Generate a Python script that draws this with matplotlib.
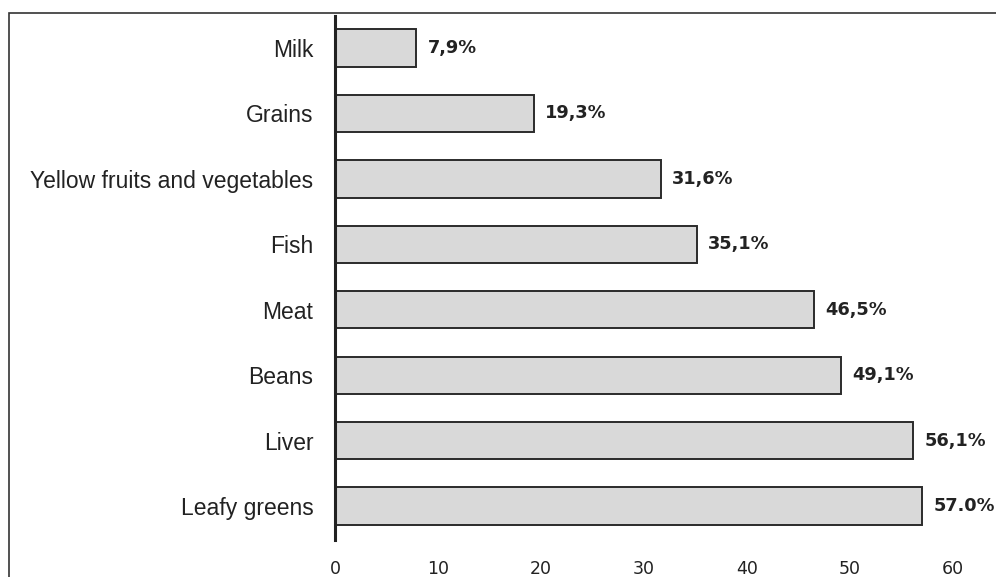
import matplotlib
matplotlib.use('Agg')
import matplotlib.pyplot as plt
from matplotlib.patches import Rectangle

# food groups and share of respondents (%)
categories = ['Leafy greens', 'Liver', 'Beans', 'Meat', 'Fish',
              'Yellow fruits and vegetables', 'Grains', 'Milk']
values = [57.0, 56.1, 49.1, 46.5, 35.1, 31.6, 19.3, 7.9]
value_labels = ['57.0%', '56,1%', '49,1%', '46,5%', '35,1%', '31,6%', '19,3%', '7,9%']
xticks = [0, 10, 20, 30, 40, 50, 60]

fig = plt.figure(figsize=(9.96, 5.77), dpi=100)

# outer frame (only top and left edges show)
fig.patches.append(Rectangle((9/996, -0.1), 1.2, 1 - 13/577 + 0.1, transform=fig.transFigure,
                             fill=False, edgecolor='#333333', lw=1.2))

ax = fig.add_axes([335/996, 37/577, 649/996, 524/577])
y = range(len(categories))
ax.barh(y, values, height=0.57, color='#d9d9d9', edgecolor='#2b2b2b', linewidth=1.4)

for yi, v, lab in zip(y, values, value_labels):
    ax.text(v + 1.1, yi, lab, va='center', ha='left', fontsize=12.8,
            fontweight='bold', color='#222222', family='DejaVu Sans', clip_on=False)

ax.set_xlim(0, 63)
ax.set_ylim(-0.52, 7.49)
ax.set_yticks(list(y))
ax.set_yticklabels(categories, fontsize=16.5, color='#222222', family='Liberation Sans')
ax.set_xticks(xticks)
ax.set_xticklabels([str(t) for t in xticks], fontsize=12.5, color='#222222', family='DejaVu Sans')
ax.tick_params(axis='y', length=0, pad=15.5)
ax.tick_params(axis='x', length=0, pad=14.5)

for s in ['top', 'right', 'bottom']:
    ax.spines[s].set_visible(False)
ax.spines['left'].set_linewidth(2.2)
ax.spines['left'].set_color('#222222')

fig.savefig('out.png', dpi=100)
